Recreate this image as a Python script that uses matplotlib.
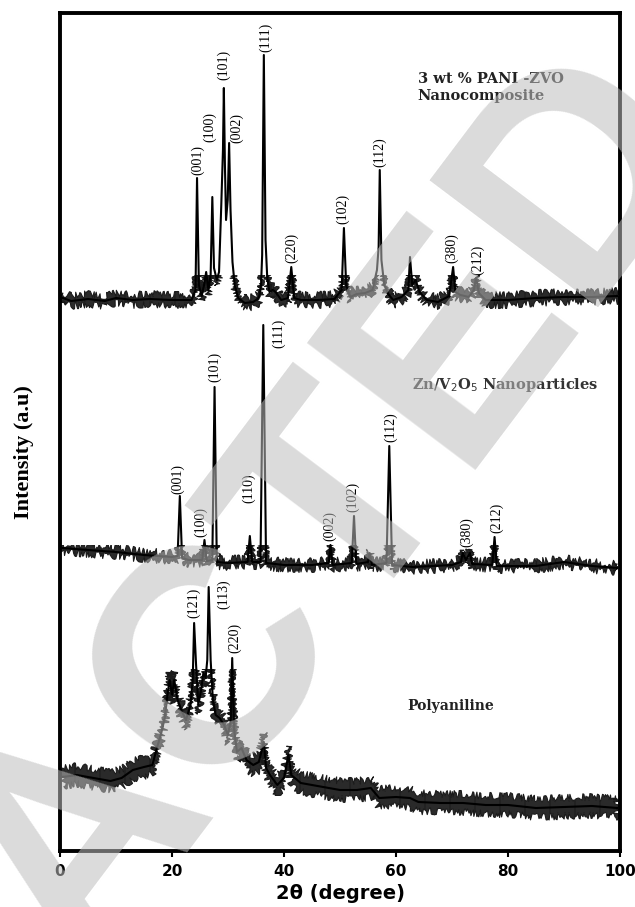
import matplotlib
matplotlib.use("Agg")
import matplotlib.pyplot as plt
from matplotlib.patches import Rectangle
import numpy as np

# ---------------- data ----------------
# 3 wt % PANI-ZVO nanocomposite (stacked, offset included)
tt_comp = [0.5, 2, 5, 8, 10, 13, 16, 20, 23.5, 24.2, 24.47, 24.8, 25.3, 25.8, 26.1, 26.5,
           26.9, 27.2, 27.5, 28.0, 28.4, 28.8, 29.1, 29.26, 29.45, 29.65, 29.95, 30.2,
           30.45, 30.8, 31.2, 31.8, 33, 34.5, 35.5, 35.9, 36.1, 36.4, 36.7, 37.0, 37.4,
           38.0, 38.5, 39.5, 40.7, 41.3, 41.8, 43, 46, 49, 50.3, 50.7, 51.1, 51.8, 53,
           54.5, 55.8, 56.6, 56.9, 57.1, 57.4, 57.9, 58.6, 59.5, 61, 62.2, 62.5, 62.9,
           63.5, 64.2, 65.5, 67.5, 69.5, 70.2, 70.6, 71.5, 73, 73.9, 74.3, 74.8, 76, 80,
           85, 90, 95, 99.5]
int_comp = [553, 550, 552, 550, 553, 551, 552, 551, 551, 561, 673, 566, 555, 568, 579, 561,
            576, 654, 583, 571, 579, 646, 701, 763, 686, 631, 651, 708,
            641, 589, 566, 553, 548, 549, 553, 566, 596, 796, 611, 574, 559,
            561, 559, 551, 553, 584, 553, 551, 551, 552, 561, 623, 566, 554, 557,
            558, 561, 581, 604, 681, 591, 566, 557, 551, 554, 561, 594, 566,
            571, 559, 551, 549, 555, 584, 559, 556, 554, 561, 573, 558, 551, 551,
            553, 554, 554, 555]

# Zn/V2O5 nanoparticles
tt_zvo = [0.5, 5, 10, 15, 20, 21.0, 21.4, 21.8, 23, 25.4, 25.8, 26.2, 27.2, 27.6, 28.0, 30,
          33.5, 33.9, 34.3, 35.8, 36.3, 36.8, 40, 45, 48, 48.3, 48.7, 52.1, 52.5, 52.9,
          55, 55.3, 55.7, 58.3, 58.8, 59.3, 63, 70, 71.6, 71.9, 72.5, 73.2, 73.6, 77.2,
          77.6, 78.0, 85, 90, 95, 99.5]
int_zvo = [303, 301, 299, 296, 294, 295, 355, 293, 291, 291, 311, 290, 291, 464, 289, 288,
           289, 315, 289, 289, 526, 288, 286, 286, 288, 306, 286, 288, 335, 287,
           289, 298, 286, 288, 405, 286, 284, 286, 289, 298, 291, 298, 287, 286,
           314, 285, 285, 289, 285, 283]

# Polyaniline
tt_pani = [0.5, 3, 6, 9, 11, 13, 15, 16.5, 17.3, 18, 18.7, 19.3, 19.6, 20.0, 20.4, 21.0,
           21.8, 22.5, 23.3, 23.7, 23.95, 24.3, 24.7, 25.2, 25.6, 26.0, 26.3, 26.55, 26.9,
           27.3, 27.8, 28.5, 29.3, 30.0, 30.5, 30.75, 31.1, 31.6, 32.4, 33.3, 34.5, 35.5,
           36.4, 36.8, 37.5, 38.8, 40.0, 40.8, 41.3, 43, 46, 50, 53, 55.5, 57, 60, 62.5,
           64, 68, 72, 76, 80, 85, 90, 95, 99.5]
int_pani = [74, 76, 73, 70, 73, 81, 84, 86, 103, 116, 133, 161, 171, 156, 171, 151,
            139, 131, 146, 171, 228, 186, 146, 161, 178, 173, 191, 264, 191,
            151, 136, 133, 126, 116, 131, 193, 121, 99, 103, 91, 86, 89,
            109, 83, 76, 66, 73, 96, 76, 68, 65, 61, 61, 63, 53, 54, 53,
            49, 48, 48, 46, 46, 43, 44, 45, 43]

# noise half-amplitude of each trace (a.u.) and the intensity band in which noise shows
noise_amp = [5, 4, 9]
noise_lo = [535, 272, 0]
noise_hi = [576, 306, 182]

# peak (hkl) labels: text, 2theta of label, intensity of label centre
lab_comp = ["(001)", "(100)", "(101)", "(002)", "(111)", "(220)", "(102)", "(112)", "(380)", "(212)"]
lab_comp_x = [24.6, 26.8, 29.3, 31.6, 36.8, 41.4, 50.4, 57.0, 70.0, 74.6]
lab_comp_y = [691, 724, 786, 723, 814, 603, 642, 699, 603, 591]

lab_zvo = ["(001)", "(100)", "(101)", "(110)", "(111)", "(002)", "(102)", "(112)", "(380)", "(212)"]
lab_zvo_x = [21.0, 25.1, 27.6, 33.6, 39.0, 48.1, 52.2, 59.1, 72.6, 77.9]
lab_zvo_y = [372, 329, 484, 363, 518, 325, 354, 424, 319, 333]

lab_pani = ["(121)", "(113)", "(220)"]
lab_pani_x = [23.8, 29.3, 31.2]
lab_pani_y = [248, 257, 213]

xticks = [0, 20, 40, 60, 80, 100]

# ---------------- figure ----------------
plt.rcParams["hatch.linewidth"] = 0.7
W, H = 635, 907
fig = plt.figure(figsize=(W / 100, H / 100), dpi=100)
ax = fig.add_axes([60 / W, 1 - 851 / H, 560 / W, 838 / H])
ax.set_xlim(0, 100)
ax.set_ylim(0, 838)

for tt, yy, amp, lo, hi in zip([tt_comp, tt_zvo, tt_pani], [int_comp, int_zvo, int_pani],
                               noise_amp, noise_lo, noise_hi):
    yy = np.asarray(yy, float)
    # noise envelope: hatched band with a rough (sketch-style) outline
    band = ax.fill_between(tt, yy - amp, yy + amp, facecolor="none", edgecolor="#1a1a1a",
                           hatch="|" * 16, lw=0.8)
    band.set_sketch_params(scale=3.5, length=2.0, randomness=25)
    band.set_clip_path(Rectangle((0, lo), 100, hi - lo, transform=ax.transData))
    ax.plot(tt, yy, color="black", lw=1.5)

serif = "Liberation Serif"
for labs, xs, ys in [(lab_comp, lab_comp_x, lab_comp_y),
                     (lab_zvo, lab_zvo_x, lab_zvo_y),
                     (lab_pani, lab_pani_x, lab_pani_y)]:
    for t, x, y in zip(labs, xs, ys):
        ax.text(x, y, t, rotation=90, ha="center", va="center", fontsize=10,
                family=serif, color="black")

ax.text(63.9, 772, "3 wt % PANI -ZVO", fontsize=10.5, family="DejaVu Serif",
        fontweight="bold", ha="left", va="center", color="#222222")
ax.text(63.9, 755, "Nanocomposite", fontsize=10.5, family="DejaVu Serif",
        fontweight="bold", ha="left", va="center", color="#222222")
ax.text(62.8, 466, "Zn/V$_2$O$_5$ Nanoparticles", fontsize=10.5, family="DejaVu Serif",
        fontweight="bold", ha="left", va="center", color="#333333")
ax.text(62.1, 145, "Polyaniline", fontsize=10, family="DejaVu Serif",
        fontweight="bold", ha="left", va="center", color="#222222")

ax.set_xticks(xticks)
ax.set_xticklabels([str(v) for v in xticks], fontsize=11, fontweight="bold",
                   family="DejaVu Sans")
ax.set_yticks([])
ax.tick_params(axis="x", direction="out", length=4, width=1.5, pad=5)
for s in ax.spines.values():
    s.set_linewidth(2.8)
ax.set_xlabel("2θ (degree)", fontsize=14, fontweight="bold", family="DejaVu Sans",
              labelpad=4)
fig.text(24 / W, 1 - 452 / H, "Intensity (a.u)", rotation=90, fontsize=16,
         fontweight="bold", family=serif, ha="center", va="center")

# watermark
fig.text(712 / W, 1 - 130 / H, "RETRACTED", rotation=53, rotation_mode="anchor",
         ha="right", va="baseline", fontsize=220, fontweight="bold",
         family="Liberation Sans", color="#bdbdbd", alpha=0.55, zorder=10)

fig.savefig("out.png", dpi=100)
